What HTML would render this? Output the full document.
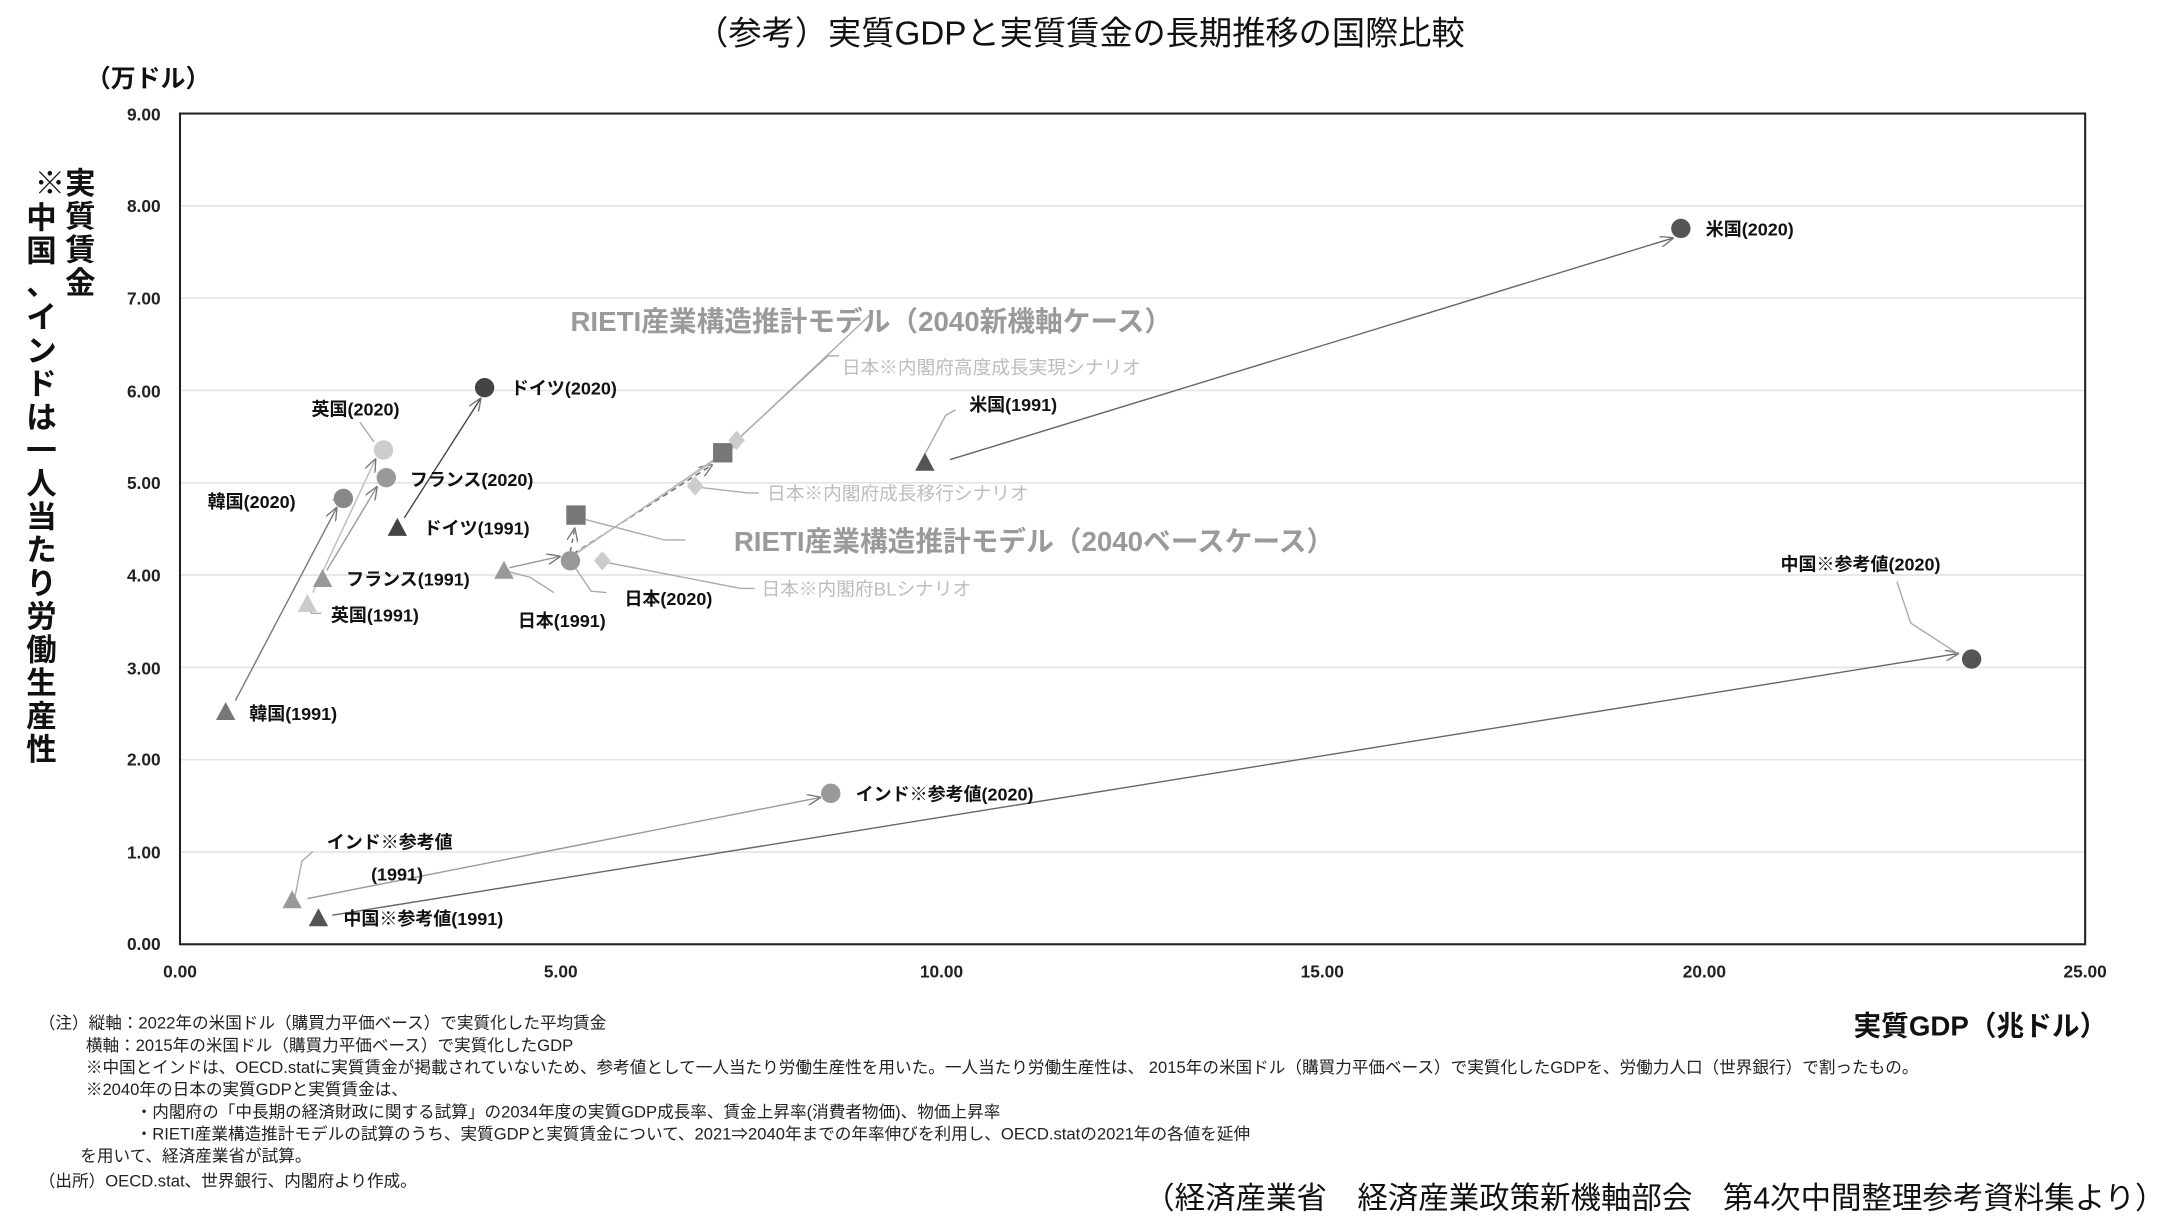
<!DOCTYPE html>
<html><head><meta charset="utf-8"><style>
html,body{margin:0;padding:0;background:#fff;}
svg{display:block;}
text{font-family:"Liberation Sans","Noto Sans CJK JP",sans-serif;}
.b{font-weight:bold;font-size:13px;fill:#111;}
.g{font-size:13.5px;fill:#bdbdbd;}
.r{font-size:20px;font-weight:bold;fill:#9a9a9a;}
.t{font-size:12.5px;font-weight:bold;fill:#222;}
.n{font-size:12px;fill:#222;}
.y{font-size:22px;font-weight:bold;fill:#111;}
</style></head><body>
<svg width="2171" height="1223" viewBox="0 0 1568 883.3" xmlns="http://www.w3.org/2000/svg">
<defs>
<marker id="a" markerWidth="10" markerHeight="8" refX="9" refY="4" orient="auto" markerUnits="userSpaceOnUse"><path d="M0,0 L10,4 L0,8" fill="none" stroke="#777" stroke-width="1"/></marker>
</defs>
<text x="780" y="32" text-anchor="middle" style="font-size:24px;fill:#111">（参考）実質GDPと実質賃金の長期推移の国際比較</text>
<text x="62" y="63" style="font-size:18px;font-weight:bold;fill:#111">（万ドル）</text>
<!-- y axis title -->
<g class="y" text-anchor="middle">
<text x="36" y="140">※</text>
<text x="58" y="140">実</text><text x="58" y="164">質</text><text x="58" y="188">賃</text><text x="58" y="212">金</text>
<text x="30" y="165">中</text><text x="30" y="189">国</text><text x="30" y="213">、</text><text x="30" y="237">イ</text><text x="30" y="261">ン</text><text x="30" y="285">ド</text><text x="30" y="309">は</text><text x="30" y="333">一</text><text x="30" y="357">人</text><text x="30" y="381">当</text><text x="30" y="405">た</text><text x="30" y="429">り</text><text x="30" y="453">労</text><text x="30" y="477">働</text><text x="30" y="501">生</text><text x="30" y="525">産</text><text x="30" y="549">性</text>
</g>
<!-- grid -->
<g stroke="#e4e4e4" stroke-width="1.2">
<line x1="130" x2="1506" y1="148.7" y2="148.7"/><line x1="130" x2="1506" y1="215.3" y2="215.3"/><line x1="130" x2="1506" y1="282" y2="282"/><line x1="130" x2="1506" y1="348.7" y2="348.7"/><line x1="130" x2="1506" y1="415.3" y2="415.3"/><line x1="130" x2="1506" y1="482" y2="482"/><line x1="130" x2="1506" y1="548.7" y2="548.7"/><line x1="130" x2="1506" y1="615.3" y2="615.3"/>
</g>
<rect x="130" y="82" width="1376" height="600" fill="none" stroke="#222" stroke-width="1.5"/>
<g class="t" text-anchor="end">
<text x="116" y="87">9.00</text><text x="116" y="153">8.00</text><text x="116" y="220">7.00</text><text x="116" y="287">6.00</text><text x="116" y="353">5.00</text><text x="116" y="420">4.00</text><text x="116" y="487">3.00</text><text x="116" y="553">2.00</text><text x="116" y="620">1.00</text><text x="116" y="686">0.00</text>
</g>
<g class="t" text-anchor="middle">
<text x="130" y="706">0.00</text><text x="405" y="706">5.00</text><text x="680" y="706">10.00</text><text x="955" y="706">15.00</text><text x="1231" y="706">20.00</text><text x="1506" y="706">25.00</text>
</g>
<text x="1522" y="748" text-anchor="end" style="font-size:20px;font-weight:bold;fill:#111">実質GDP（兆ドル）</text>
<!-- arrows -->
<g fill="none" stroke-width="1">
<line x1="686" y1="332" x2="1208" y2="172" stroke="#666" marker-end="url(#a)"/>
<line x1="240" y1="661" x2="1414" y2="472" stroke="#666" marker-end="url(#a)"/>
<line x1="222" y1="649" x2="592" y2="576" stroke="#999" marker-end="url(#a)"/>
<line x1="170" y1="506" x2="243" y2="367" stroke="#777" marker-end="url(#a)"/>
<line x1="226" y1="428" x2="271" y2="332" stroke="#bbb" marker-end="url(#a)"/>
<line x1="236" y1="412" x2="272" y2="352" stroke="#999" marker-end="url(#a)"/>
<line x1="292" y1="374" x2="347" y2="288" stroke="#444" marker-end="url(#a)"/>
<line x1="368" y1="410" x2="404" y2="402" stroke="#999" marker-end="url(#a)"/>
<line x1="414" y1="400" x2="514" y2="336" stroke="#666" stroke-dasharray="4,3" marker-end="url(#a)"/>
<line x1="412" y1="398" x2="415" y2="382" stroke="#666" stroke-dasharray="3,3" marker-end="url(#a)"/>
<line x1="416" y1="400" x2="530" y2="322" stroke="#bbb"/>
<line x1="418" y1="398" x2="532" y2="322" stroke="#bbb"/>
</g>
<!-- leader lines -->
<g fill="none" stroke="#aaa" stroke-width="1">
<polyline points="532,318 598,257 606,257"/><polyline points="528,322 630,226"/>
<polyline points="505,352 540,356 548,356"/><polyline points="418,374 480,390 495,390"/>
<polyline points="437,406 535,425 545,425"/><polyline points="1414,472 1380,450 1370,420"/>
<polyline points="668,328 683,300 690,296"/><polyline points="412,405 427,427 438,428"/>
<polyline points="364,412 383,417 400,428"/><polyline points="270,319 260,305"/>
<polyline points="222,438 225,443 232,443"/><polyline points="213,648 218,622 226,615"/>
<polyline points="240,361 248,361"/>
</g>
<!-- markers -->
<circle cx="1214" cy="165" r="7" fill="#555"/>
<polygon points="668,327 675,340 661,340" fill="#555"/>
<circle cx="1424" cy="476" r="7" fill="#555"/>
<polygon points="230,656 237,669 223,669" fill="#555"/>
<circle cx="600" cy="573" r="7" fill="#999"/>
<polygon points="211,643 218,656 204,656" fill="#999"/>
<circle cx="248" cy="360" r="7" fill="#888"/>
<polygon points="163,507 170,520 156,520" fill="#777"/>
<circle cx="277" cy="325" r="7" fill="#ccc"/>
<polygon points="222,429 229,442 215,442" fill="#ccc"/>
<circle cx="279" cy="345" r="7" fill="#999"/>
<polygon points="233,411 240,424 226,424" fill="#999"/>
<circle cx="350" cy="280" r="7" fill="#444"/>
<polygon points="287,374 294,387 280,387" fill="#444"/>
<circle cx="412" cy="405" r="7" fill="#999"/>
<polygon points="364,405 371,418 357,418" fill="#999"/>
<rect x="409" y="365" width="14" height="14" fill="#777"/>
<rect x="515" y="320" width="14" height="14" fill="#777"/>
<polygon points="532,311 538,318 532,325 526,318" fill="#ccc"/>
<polygon points="502,344 508,351 502,358 496,351" fill="#ccc"/>
<polygon points="435,398 441,405 435,412 429,405" fill="#ccc"/>
<!-- labels -->
<text class="b" x="1232" y="170">米国(2020)</text>
<text class="b" x="700" y="297">米国(1991)</text>
<text class="b" x="1286" y="412">中国※参考値(2020)</text>
<text class="b" x="248" y="668">中国※参考値(1991)</text>
<text class="b" x="618" y="578">インド※参考値(2020)</text>
<text class="b" x="236" y="613">インド※参考値</text>
<text class="b" x="268" y="636">(1991)</text>
<text class="b" x="150" y="367">韓国(2020)</text>
<text class="b" x="180" y="520">韓国(1991)</text>
<text class="b" x="225" y="300">英国(2020)</text>
<text class="b" x="239" y="449">英国(1991)</text>
<text class="b" x="296" y="351">フランス(2020)</text>
<text class="b" x="250" y="423">フランス(1991)</text>
<text class="b" x="369" y="285">ドイツ(2020)</text>
<text class="b" x="306" y="386">ドイツ(1991)</text>
<text class="b" x="451" y="437">日本(2020)</text>
<text class="b" x="374" y="453">日本(1991)</text>
<text class="r" x="412" y="239">RIETI産業構造推計モデル（2040新機軸ケース）</text>
<text class="r" x="530" y="398">RIETI産業構造推計モデル（2040ベースケース）</text>
<text class="g" x="608" y="270">日本※内閣府高度成長実現シナリオ</text>
<text class="g" x="554" y="361">日本※内閣府成長移行シナリオ</text>
<text class="g" x="550" y="430">日本※内閣府BLシナリオ</text>
<!-- notes -->
<g class="n">
<text x="28" y="743">（注）縦軸：2022年の米国ドル（購買力平価ベース）で実質化した平均賃金</text>
<text x="62" y="759">横軸：2015年の米国ドル（購買力平価ベース）で実質化したGDP</text>
<text x="62" y="775">※中国とインドは、OECD.statに実質賃金が掲載されていないため、参考値として一人当たり労働生産性を用いた。一人当たり労働生産性は、 2015年の米国ドル（購買力平価ベース）で実質化したGDPを、労働力人口（世界銀行）で割ったもの。</text>
<text x="62" y="791">※2040年の日本の実質GDPと実質賃金は、</text>
<text x="98" y="807">・内閣府の「中長期の経済財政に関する試算」の2034年度の実質GDP成長率、賃金上昇率(消費者物価)、物価上昇率</text>
<text x="98" y="823">・RIETI産業構造推計モデルの試算のうち、実質GDPと実質賃金について、2021⇒2040年までの年率伸びを利用し、OECD.statの2021年の各値を延伸</text>
<text x="58" y="839">を用いて、経済産業省が試算。</text>
<text x="28" y="857">（出所）OECD.stat、世界銀行、内閣府より作成。</text>
</g>
<text x="1564" y="873" text-anchor="end" style="font-size:22px;fill:#111">（経済産業省　経済産業政策新機軸部会　第4次中間整理参考資料集より）</text>
</svg>
</body></html>
